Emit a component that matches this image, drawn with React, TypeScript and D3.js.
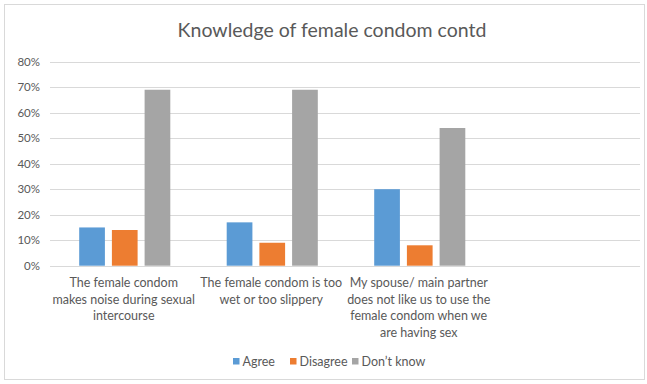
import React from "react";
import * as d3 from "d3";

const title = "Knowledge of female condom contd";
const categories = ["c1", "c2", "c3", "c4"];
const categoryLabels: string[][] = [
  ["The female condom", "makes noise during sexual", "intercourse"],
  ["The female condom is too", "wet or too slippery"],
  ["My spouse/ main partner", "does not like us to use the", "female condom when we", "are having sex"],
  [],
];
const seriesNames = ["Agree", "Disagree", "Don\u2019t know"];
const agree = [15, 17, 30];
const disagree = [14, 9, 8];
const dontKnow = [69, 69, 54];
const yTicks = [0, 10, 20, 30, 40, 50, 60, 70, 80];
const colors = ["#5B9BD5", "#ED7D31", "#A5A5A5"];

const W = 647;
const H = 384;
const FONT = "Lato, 'Open Sans', sans-serif";
const TEXT = "#595959";

export default function App() {
  const seriesValues = [agree, disagree, dontKnow];
  const y = d3.scaleLinear().domain([0, 80]).range([265.7, 61.7]);
  const x0 = d3.scaleBand<string>().domain(categories).range([50, 640]).padding(0);
  const slot = x0.bandwidth();
  const groupW = 91.1;
  const off = (slot - groupW) / 2 + 1;
  const x1 = d3.scaleBand<string>().domain(seriesNames).range([off, off + groupW]).paddingInner(0.214).paddingOuter(0);

  const legendItems = [
    { x: 233, name: seriesNames[0] },
    { x: 290, name: seriesNames[1] },
    { x: 352, name: seriesNames[2] },
  ];

  return (
    <svg width={W} height={H} style={{ position: "absolute", left: 0, top: 0, background: "#fff" }} fontFamily={FONT}>
      <rect x={4.5} y={4.5} width={640} height={375} fill="#fff" stroke="#d9d9d9" />
      <text x={332} y={37} textAnchor="middle" fontSize={19.5} fill={TEXT}>{title}</text>
      {yTicks.map((t) => (
        <g key={t}>
          <line x1={50} x2={640} y1={Math.round(y(t)) + 0.5} y2={Math.round(y(t)) + 0.5} stroke="#d9d9d9" strokeWidth={1} />
          <text x={40} y={y(t) + 4} textAnchor="end" fontSize={11.5} fill={TEXT}>{t}%</text>
        </g>
      ))}
      {categories.slice(0, 3).map((c, i) => (
        <g key={c}>
          {seriesValues.map((vals, s) => (
            <rect
              key={s}
              x={(x0(c) as number) + (x1(seriesNames[s]) as number)}
              y={y(vals[i])}
              width={x1.bandwidth()}
              height={y(0) - y(vals[i])}
              fill={colors[s]}
            />
          ))}
        </g>
      ))}
      {categories.map((c, i) => (
        <text key={c} textAnchor="middle" fontSize={12.5} fill={TEXT}>
          {categoryLabels[i].map((line, j) => (
            <tspan key={j} x={(x0(c) as number) + slot / 2} y={287 + j * 16.5}>{line}</tspan>
          ))}
        </text>
      ))}
      {legendItems.map((it, s) => (
        <g key={it.name}>
          <rect x={it.x} y={358} width={6.5} height={6.5} fill={colors[s]} />
          <text x={it.x + 9.5} y={366} fontSize={12.5} fill={TEXT}>{it.name}</text>
        </g>
      ))}
    </svg>
  );
}
